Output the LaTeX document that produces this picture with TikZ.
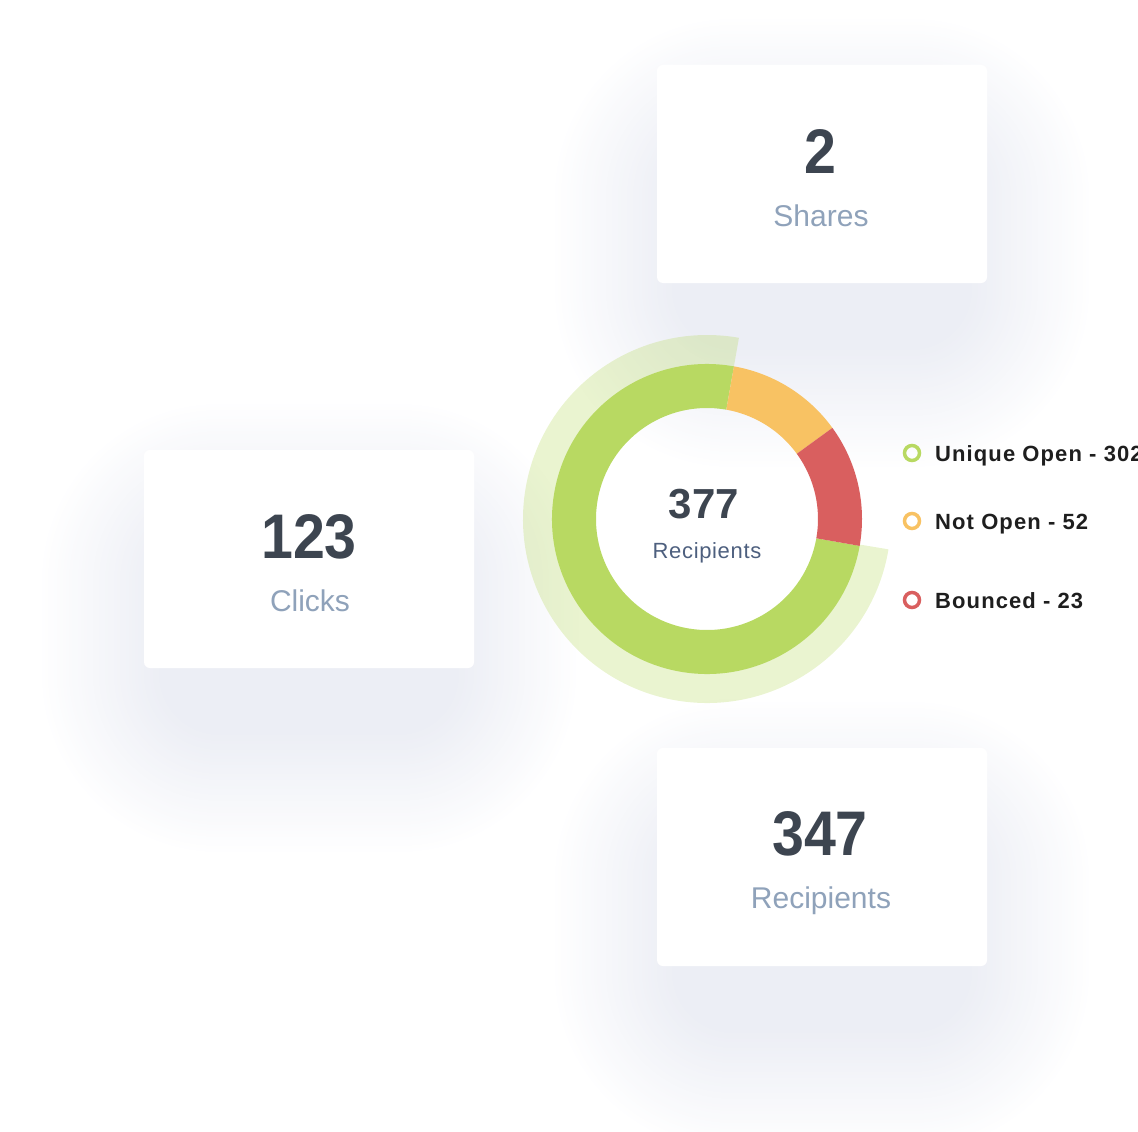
\documentclass[tikz,border=0pt]{standalone}
\usepackage{fontspec}
\setmainfont{Liberation Sans}
\definecolor{numgray}{HTML}{3D4550}
\definecolor{labgray}{HTML}{8FA2BA}
\definecolor{midblue}{HTML}{4D5F7E}
\definecolor{legblack}{HTML}{1E1E1E}
\definecolor{opengreen}{HTML}{B8D962}
\definecolor{notorange}{HTML}{F8C263}
\definecolor{bouncered}{HTML}{D95F5F}
\definecolor{shadowc}{HTML}{8A96C0}
\tikzstyle{card}=[fill=white,rounded corners=6pt,minimum width=330pt,minimum height=218pt,inner sep=0pt]
\tikzstyle{bignum}=[numgray,font=\fontsize{63}{63}\selectfont\bfseries\addfontfeatures{FakeStretch=0.91},inner sep=0pt,anchor=base]
\tikzstyle{cardlabel}=[labgray,font=\fontsize{30}{30}\selectfont,inner sep=0pt,anchor=base]
\tikzstyle{legdot}=[draw,circle,line width=3.5pt,minimum size=15pt,inner sep=0pt]
\tikzstyle{legtext}=[legblack,font=\fontsize{22}{22}\selectfont\bfseries\addfontfeatures{LetterSpace=5},inner sep=0pt,anchor=base west]

\begin{document}
\begin{tikzpicture}[x=1pt,y=-1pt]
    \useasboundingbox (0,0) rectangle (1138,1132);
    \clip (0,0) rectangle (1138,1132);
    % soft shadows under the cards
    \foreach \cx/\cy in {822/174,309/559,822/857} {
        \foreach \k in {0,...,40}
            \fill[shadowc,opacity=0.0035,rounded corners={60pt+\k*3pt}] (\cx-150-\k*3,\cy-38-\k*3) rectangle (\cx+150+\k*3,\cy+176+\k*3);
    }
    \node (shares)[card] at (822,174) {};
    \node (clicks)[card] at (309,559) {};
    \node (recips)[card] at (822,857) {};
    \node (sharesnum)[bignum] at (820,173) {2};
    \node (shareslab)[cardlabel] at (821,226) {Shares};
    \node (clicksnum)[bignum] at (309,558) {123};
    \node (clickslab)[cardlabel] at (310,611) {Clicks};
    \node (recipsnum)[bignum] at (820,855) {347};
    \node (recipslab)[cardlabel] at (821,908) {Recipients};
    % donut
    \begin{scope}[shift={(707,519)},yscale=-1]
        \fill[opengreen,opacity=0.3] (80:150) arc[start angle=80,end angle=350.5,radius=150] -- (350.5:184) arc[start angle=350.5,end angle=80,radius=184] -- cycle;
        \fill[opengreen] (80:111) arc[start angle=80,end angle=350,radius=111] -- (350:155) arc[start angle=350,end angle=80,radius=155] -- cycle;
        \fill[notorange] (36:111) arc[start angle=36,end angle=80,radius=111] -- (80:155) arc[start angle=80,end angle=36,radius=155] -- cycle;
        \fill[bouncered] (-10:111) arc[start angle=-10,end angle=36,radius=111] -- (36:155) arc[start angle=36,end angle=-10,radius=155] -- cycle;
    \end{scope}
    \node (total)[numgray,font=\fontsize{42}{42}\selectfont\bfseries,inner sep=0pt,anchor=base] at (704,518) {377};
    \node (totallab)[midblue,font=\fontsize{22}{22}\selectfont\addfontfeatures{LetterSpace=3},inner sep=0pt,anchor=base] at (707,558) {Recipients};
    % legend
    \node (uodot)[legdot,draw=opengreen] at (912,453) {};
    \node (nodot)[legdot,draw=notorange] at (912,521) {};
    \node (bodot)[legdot,draw=bouncered] at (912,600) {};
    \node (uotext)[legtext] at (935,461) {Unique Open - 302};
    \node (notext)[legtext] at (935,529) {Not Open - 52};
    \node (botext)[legtext] at (935,608) {Bounced - 23};
\end{tikzpicture}
\end{document}
